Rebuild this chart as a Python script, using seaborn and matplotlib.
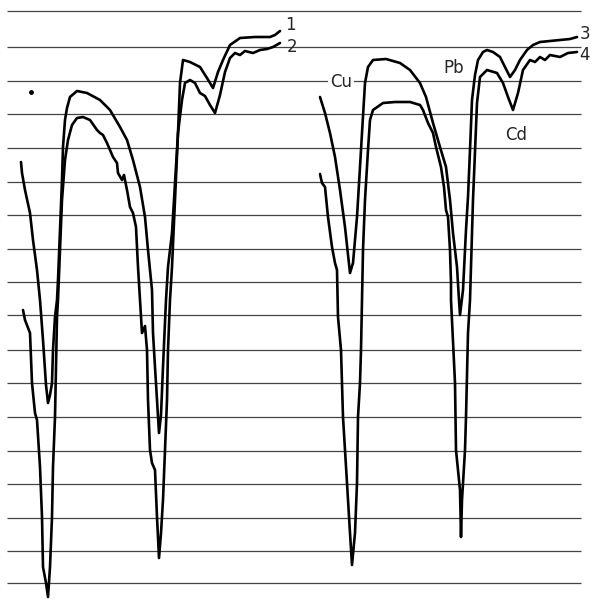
import numpy as np
import pandas as pd
import matplotlib
matplotlib.use("Agg")
import matplotlib.pyplot as plt
import seaborn as sns

# chart-paper rulings (recorder trace, pixel units of the scan)
grid_y = [11, 47, 81, 114, 148, 182, 215, 249, 282, 315,
          350, 383, 417, 451, 484, 518, 551, 583]
grid_x = [7, 581]

# left pair: curves 1 and 2
c1_x = [21, 22, 25, 30, 33, 37, 40, 43, 46, 48,
        50, 52, 53, 55, 57, 58, 60, 62, 63, 65, 67, 70,
        77, 87, 100, 110, 120, 127, 133, 140, 145, 148,
        152, 153, 155, 157, 159, 161, 163, 166, 168, 172,
        175, 178, 180, 183, 190, 200, 207, 213, 218, 223,
        230, 240, 255, 270, 275, 280]
c1_y = [162, 173, 190, 213, 240, 270, 300, 340, 385, 403,
        395, 383, 350, 317, 300, 280, 230, 180, 147, 120, 108, 97,
        91, 93, 100, 110, 127, 140, 160, 187, 217, 250,
        290, 333, 367, 400, 433, 415, 367, 300, 267, 233,
        183, 133, 83, 60, 62, 67, 78, 88, 72, 60,
        45, 38, 37, 37, 35, 31]

c2_x = [23, 25, 30, 32, 35, 37, 40, 42, 43, 46,
        48, 50, 52, 53, 55, 56, 57, 58, 60, 62,
        65, 68, 72, 77, 83, 90, 97, 100, 103, 107,
        110, 113, 117, 118, 122, 124, 127, 130, 133, 136,
        138, 140, 142, 145, 147, 148, 150, 152, 155, 157,
        159, 161, 163, 165, 167, 168, 170, 172, 175, 178,
        182, 185, 190, 195, 200, 205, 210, 215, 220, 225,
        230, 235, 240, 245, 253, 260, 267, 273, 280]
c2_y = [310, 320, 333, 383, 413, 420, 467, 517, 567, 583,
        597, 567, 517, 467, 417, 367, 317, 300, 250, 200,
        160, 140, 125, 118, 117, 120, 130, 133, 135, 143,
        150, 157, 163, 173, 180, 175, 190, 207, 213, 227,
        267, 300, 333, 326, 350, 400, 450, 463, 470, 517,
        558, 533, 500, 450, 400, 350, 300, 267, 200, 133,
        100, 83, 80, 83, 93, 96, 105, 113, 95, 72,
        58, 53, 55, 51, 53, 50, 49, 47, 43]

# right pair: curves 3 and 4
c3_x = [320, 325, 330, 335, 340, 345, 350, 353, 357, 360,
        362, 365, 368, 373, 386, 400, 410, 420, 426, 433,
        440, 446, 450, 453, 457, 459, 460, 463, 466, 468,
        470, 472, 475, 478, 483, 487, 493, 500, 505, 510,
        515, 520, 527, 533, 540, 550, 560, 570, 577]
c3_y = [97, 113, 133, 157, 190, 227, 273, 263, 217, 167,
        133, 83, 67, 60, 59, 63, 70, 83, 97, 123,
        147, 167, 200, 233, 267, 300, 315, 290, 230, 197,
        150, 100, 75, 60, 52, 50, 52, 57, 67, 77,
        70, 60, 50, 45, 42, 41, 40, 39, 37]

c4_x = [320, 322, 325, 328, 332, 335, 337, 338, 341, 343,
        347, 350, 352, 355, 357, 358, 360, 361, 362, 363,
        365, 368, 370, 373, 383, 395, 410, 420, 423, 428,
        433, 436, 441, 444, 446, 448, 450, 451, 451, 455,
        456, 460, 461, 462, 465, 466, 468, 470, 473, 477,
        480, 487, 497, 503, 508, 513, 518, 523, 530, 535,
        540, 545, 550, 560, 568, 577]
c4_y = [174, 183, 187, 217, 247, 263, 270, 317, 350, 417,
        483, 533, 565, 533, 483, 417, 383, 350, 300, 250,
        200, 150, 120, 110, 103, 102, 102, 105, 110, 123,
        133, 147, 167, 187, 210, 217, 250, 283, 300, 383,
        450, 490, 537, 500, 450, 417, 333, 300, 200, 103,
        77, 70, 73, 83, 97, 110, 93, 70, 60, 62,
        57, 60, 55, 57, 53, 52]

curve_names = ["1", "2", "3", "4"]
curve_label_x = [290, 292, 585, 585]
curve_label_y = [25, 47, 34, 55]

peak_names = ["Cu", "Pb", "Cd"]
peak_label_x = [341, 454, 516]
peak_label_y = [82, 68, 135]

sns.set_style("white")
plt.rcParams["font.family"] = ["DejaVu Sans"]

fig = plt.figure(figsize=(5.93, 6.12), dpi=100)
ax = fig.add_axes([0, 0, 1, 1])

ax.hlines(grid_y, grid_x[0], grid_x[1], colors="#444444", linewidth=0.9, zorder=1)

frames = []
for name, xs, ys in zip(curve_names, [c1_x, c2_x, c3_x, c4_x], [c1_y, c2_y, c3_y, c4_y]):
    frames.append(pd.DataFrame({"x": xs, "y": ys, "curve": name}))
df = pd.concat(frames, ignore_index=True)

sns.lineplot(data=df, x="x", y="y", units="curve", estimator=None, sort=False,
             color="black", linewidth=1.9, ax=ax, zorder=3)

for name, x, y in zip(curve_names, curve_label_x, curve_label_y):
    ax.text(x, y, name, fontsize=12, ha="center", va="center", zorder=4)

for name, x, y in zip(peak_names, peak_label_x, peak_label_y):
    ax.text(x, y, name, fontsize=12, ha="center", va="center", zorder=4,
            bbox=dict(facecolor="white", edgecolor="none", pad=1.5))

# stray ink dot on the scan
ax.plot([31], [92], marker="o", markersize=2.5, color="black")

ax.set_xlim(0, 593)
ax.set_ylim(612, 0)
ax.axis("off")

plt.savefig("out.png", dpi=100)
